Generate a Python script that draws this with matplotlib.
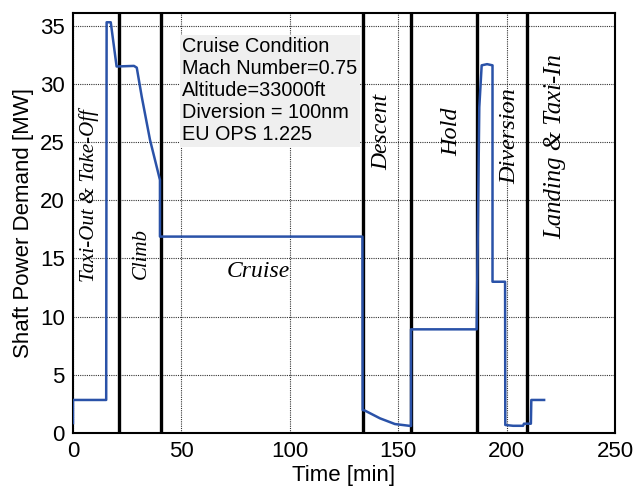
import matplotlib
matplotlib.use("Agg")
import matplotlib.pyplot as plt

# Power profile (time in min, power in MW)
time_min = [0, 0, 15.3, 15.5, 17.4, 20.1, 28.1, 29.4, 31.7, 35.5, 40.1, 40.1, 133.5,
            133.6, 134.7, 141.6, 148.5, 155.9, 155.9, 156.2, 186.2, 187.4, 188.5,
            191.0, 193.5, 193.5, 199.3, 199.4, 203.0, 207.6, 208.0, 211.2, 211.4, 217.3]
power_mw = [0.85, 2.84, 2.84, 35.3, 35.3, 31.5, 31.55, 31.4, 28.9, 25.2, 21.75, 16.88, 16.88,
            1.98, 1.92, 1.26, 0.77, 0.6, 8.91, 8.91, 8.91, 28.0, 31.6,
            31.7, 31.6, 13.0, 13.0, 0.69, 0.62, 0.62, 0.8, 0.8, 2.84, 2.84]

phase_bounds = [21.0, 40.7, 133.6, 156.1, 186.3, 209.2]
phase_names = ["Taxi-Out & Take-Off", "Climb", "Cruise", "Descent", "Hold",
               "Diversion", "Landing & Taxi-In"]
phase_label_x = [7.6, 31.5, 85.3, 142.5, 174.7, 201.6, 222.5]
phase_label_y = [20.4, 15.4, 13.9, 25.9, 25.9, 25.5, 24.6]
phase_label_rot = [90, 90, 0, 90, 90, 90, 90]
phase_label_size = [15, 15, 17, 17, 17.5, 17.5, 17.8]

info_lines = ["Cruise Condition", "Mach Number=0.75", "Altitude=33000ft",
              "Diversion = 100nm", "EU OPS 1.225"]

x_ticks = [0, 50, 100, 150, 200, 250]
y_ticks = [0, 5, 10, 15, 20, 25, 30, 35]

plt.rcParams['font.family'] = ['Liberation Sans', 'DejaVu Sans']

fig = plt.figure(figsize=(6.35, 4.93), dpi=100)
ax = fig.add_axes([0.115, 0.1217, 0.8535, 0.852])

ax.grid(True, color='black', linestyle=(0, (1, 1)), linewidth=0.8, alpha=0.8)
ax.set_axisbelow(True)

for b in phase_bounds:
    ax.axvline(b, color='black', linewidth=2.4, zorder=2)

ax.plot(time_min, power_mw, color='#2a52a8', linewidth=1.8, zorder=3)

for name, lx, ly, rot, fs in zip(phase_names, phase_label_x, phase_label_y,
                                 phase_label_rot, phase_label_size):
    ax.text(lx, ly, name, rotation=rot, ha='center', va='center',
            family='Liberation Serif', style='italic', fontsize=fs, zorder=4)

ax.text(50.3, 34.0, "\n".join(info_lines), ha='left', va='top', fontsize=14.3,
        linespacing=1.2, zorder=5,
        bbox=dict(boxstyle='square,pad=0.12', facecolor='#efefef', edgecolor='none'))

ax.set_xlim(0, 250)
ax.set_ylim(0, 36.1)
ax.set_xticks(x_ticks)
ax.set_yticks(y_ticks)
ax.tick_params(labelsize=16, length=0, pad=6)
for s in ax.spines.values():
    s.set_linewidth(1.5)
    s.set_color('black')

ax.set_xlabel("Time [min]", fontsize=16, labelpad=2)
ax.set_ylabel("Shaft Power Demand [MW]", fontsize=16, labelpad=4)

fig.savefig("out.png", dpi=100)
